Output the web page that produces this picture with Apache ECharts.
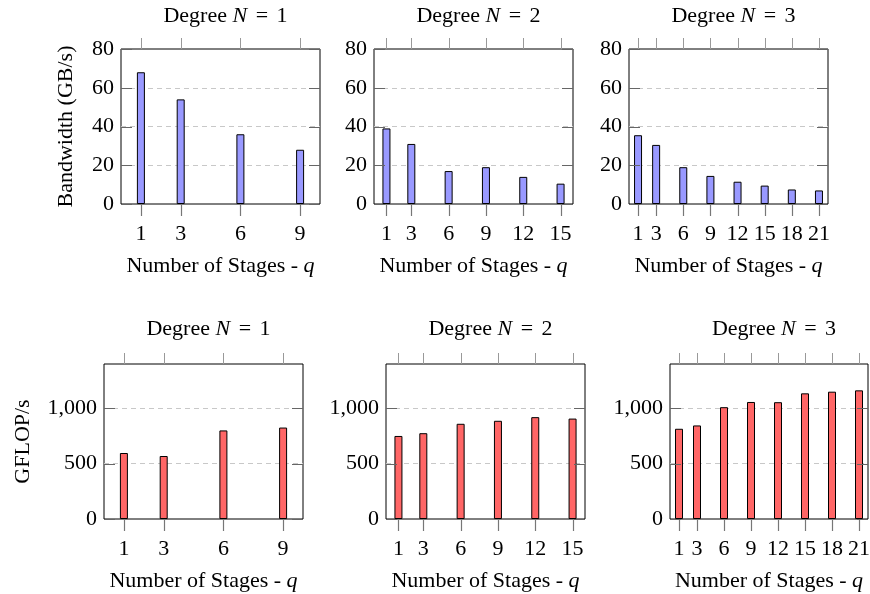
<!DOCTYPE html>
<html>
<head>
<meta charset="utf-8">
<script src="https://cdn.jsdelivr.net/npm/echarts@6/dist/echarts.min.js"></script>
<style>
html,body{margin:0;padding:0;background:#fff;}
#chart{width:870px;height:594px;}
</style>
</head>
<body>
<div id="chart"></div>
<script>
// Number of stages q for each degree
const qN1 = [1, 3, 6, 9];
const qN2 = [1, 3, 6, 9, 12, 15];
const qN3 = [1, 3, 6, 9, 12, 15, 18, 21];
// Bandwidth (GB/s)
const bwN1 = [68, 54, 36, 28];
const bwN2 = [39, 31, 17, 19, 14, 10.5];
const bwN3 = [35.5, 30.5, 19, 14.5, 11.5, 9.5, 7.5, 7];
// GFLOP/s
const gfN1 = [596, 569, 800, 826];
const gfN2 = [750, 775, 860, 887, 920, 907];
const gfN3 = [815, 845, 1010, 1057, 1055, 1135, 1150, 1162];
// Tick labels
const bwTicks = [0, 20, 40, 60, 80];
const gfTicks = [0, 500, 1000];
const degrees = [1, 2, 3];

const FONT = 'Liberation Serif';
const FS = 22;
const BLUE = '#9999ff';
const RED = '#ff6666';

const panels = [
  {q: qN1, v: bwN1, xMax: 10, yMax: 80, yInt: 20, yt: bwTicks, color: BLUE, deg: degrees[0], grid: {left: 121, top: 49, width: 199, height: 155}, titleTop: 0, yName: 'Bandwidth (GB/s)', yGap: 44},
  {q: qN2, v: bwN2, xMax: 16, yMax: 80, yInt: 20, yt: bwTicks, color: BLUE, deg: degrees[1], grid: {left: 374, top: 49, width: 199, height: 155}, titleTop: 0},
  {q: qN3, v: bwN3, xMax: 22, yMax: 80, yInt: 20, yt: bwTicks, color: BLUE, deg: degrees[2], grid: {left: 629, top: 49, width: 199, height: 155}, titleTop: 0},
  {q: qN1, v: gfN1, xMax: 10, yMax: 1400, yInt: 500, yt: gfTicks, color: RED, deg: degrees[0], grid: {left: 104, top: 364, width: 199, height: 155}, titleTop: 313, yName: 'GFLOP/s', yGap: 70},
  {q: qN2, v: gfN2, xMax: 16, yMax: 1400, yInt: 500, yt: gfTicks, color: RED, deg: degrees[1], grid: {left: 386, top: 364, width: 199, height: 155}, titleTop: 313},
  {q: qN3, v: gfN3, xMax: 22, yMax: 1400, yInt: 500, yt: gfTicks, color: RED, deg: degrees[2], grid: {left: 670, top: 364, width: 198, height: 155}, titleTop: 313}
];

const fmt = v => String(v).replace(/\B(?=(\d{3})+(?!\d))/g, ',');

const grids = [], xAxes = [], yAxes = [], series = [], titles = [];
panels.forEach((p, i) => {
  grids.push(Object.assign({show: true, borderColor: '#000', borderWidth: 1, backgroundColor: 'transparent',
    containLabel: false, outerBoundsMode: 'none'}, p.grid));
  xAxes.push({
    type: 'value', gridIndex: i, position: 'bottom', min: 0, max: p.xMax,
    axisLine: {show: false},
    axisTick: {show: false},
    axisLabel: {show: true, customValues: p.q, fontFamily: FONT, fontSize: FS, color: '#000', margin: 19},
    splitLine: {show: false},
    name: 'Number of Stages - {i|q}', nameLocation: 'middle', nameGap: 51,
    nameTextStyle: {fontFamily: FONT, fontSize: FS, color: '#000', rich: {i: {fontFamily: FONT, fontSize: FS, fontStyle: 'italic', color: '#000'}}}
  });
  const yAx = {
    type: 'value', gridIndex: i, position: 'left', min: 0, max: p.yMax, interval: p.yInt,
    axisLine: {show: false},
    axisTick: {show: false},
    axisLabel: {show: true, customValues: p.yt, fontFamily: FONT, fontSize: FS, color: '#000', margin: 7, formatter: fmt},
    splitLine: {show: true, showMinLine: false, showMaxLine: false, lineStyle: {color: '#c8c8c8', type: [5, 4], width: 1}}
  };
  if (p.yName) {
    Object.assign(yAx, {name: p.yName, nameLocation: 'middle', nameGap: p.yGap,
      nameTextStyle: {fontFamily: FONT, fontSize: FS, color: '#000'}});
  }
  yAxes.push(yAx);
  series.push({
    type: 'bar', xAxisIndex: i, yAxisIndex: i, barWidth: 8,
    data: p.q.map((q, k) => [q, p.v[k]]),
    itemStyle: {color: p.color, borderColor: '#000', borderWidth: 1},
    silent: true, z: 2
  });
  // x ticks above the frame (outward)
  series.push({
    type: 'custom', xAxisIndex: i, yAxisIndex: i, clip: false, silent: true, z: 100,
    data: p.q.map(q => [q, p.yMax]),
    renderItem: (params, api) => {
      const t = api.coord([api.value(0), api.value(1)]);
      return {type: 'rect', shape: {x: Math.round(t[0]), y: Math.round(t[1]) - 11, width: 1, height: 11}, style: {fill: '#999'}};
    }
  });
  // x ticks below the frame (outward), drawn as a line from the grid's bottom edge
  series.push({
    type: 'custom', xAxisIndex: i, yAxisIndex: i, clip: false, silent: true, z: 100,
    data: p.q.map(q => [q, 0]),
    renderItem: (params, api) => {
      const b = api.coord([api.value(0), api.value(1)]);
      const x = Math.round(b[0]) + 0.5;
      const y = Math.round(b[1]);
      return {type: 'polyline', shape: {points: [[x, y + 1], [x, y + 12]]}, style: {stroke: '#777', lineWidth: 1.2, fill: null}};
    }
  });
  // y ticks on the left and right (inward)
  series.push({
    type: 'custom', xAxisIndex: i, yAxisIndex: i, clip: false, silent: true, z: 100,
    data: p.yt.map(v => [0, v]),
    renderItem: (params, api) => {
      const l = api.coord([0, api.value(1)]);
      const r = api.coord([p.xMax, api.value(1)]);
      const y = Math.round(l[1]);
      return {type: 'group', children: [
        {type: 'rect', shape: {x: Math.round(l[0]), y: y, width: 11, height: 1}, style: {fill: '#666'}},
        {type: 'rect', shape: {x: Math.round(r[0]) - 11, y: y, width: 11, height: 1}, style: {fill: '#666'}}
      ]};
    }
  });
  titles.push({
    text: 'Degree {i|N} {s|=} ' + p.deg,
    left: p.grid.left + p.grid.width / 2, textAlign: 'center',
    top: p.titleTop,
    textStyle: {fontFamily: FONT, fontSize: FS, fontWeight: 'normal', color: '#000',
      rich: {
        i: {fontFamily: FONT, fontSize: FS, fontStyle: 'italic', color: '#000'},
        s: {fontFamily: FONT, fontSize: FS, color: '#000', padding: [0, 3, 0, 3]}
      }}
  });
});

const chart = echarts.init(document.getElementById('chart'), null, {renderer: 'canvas'});
chart.setOption({
  animation: false,
  backgroundColor: '#fff',
  title: titles,
  grid: grids,
  xAxis: xAxes,
  yAxis: yAxes,
  series: series
});
</script>
</body>
</html>
